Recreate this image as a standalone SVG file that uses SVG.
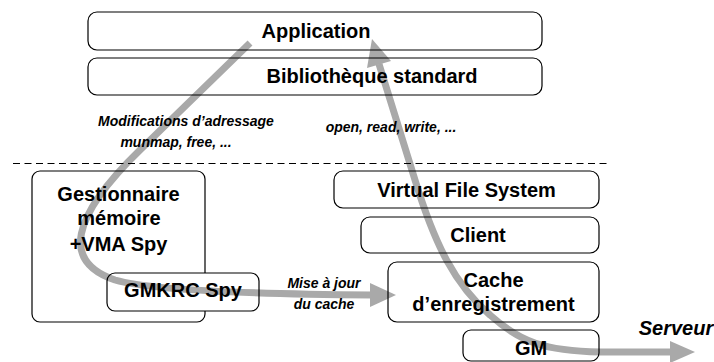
<svg xmlns="http://www.w3.org/2000/svg" width="714" height="362" viewBox="0 0 714 362">
<style>
.box{fill:none;stroke:#000;stroke-width:1.2}
.lbl{font-family:"Liberation Sans",Arial,Helvetica,sans-serif;font-weight:bold;font-size:20px;fill:#000;text-anchor:middle}
.note{font-family:"Liberation Sans",Arial,Helvetica,sans-serif;font-weight:bold;font-style:italic;font-size:14px;fill:#000;text-anchor:middle}
.flow{fill:none;stroke:#a9a9a9;stroke-width:7}
.head{fill:#a9a9a9;stroke:none}
</style>
<rect width="714" height="362" fill="#fff"/>
<g id="connectors">
<path class="flow" d="M250,43 L140,150 C70,218 62,262 115,280 C150,290 240,294 372,295"/>
<polygon class="head" points="396,295 370,283 370,307"/>
<path class="flow" d="M379,64 L415,180 C435,245 455,285 490,315 C520,342 545,351 600,352 L671,352"/>
<polygon class="head" points="372,39 391,61 367,68"/>
<polygon class="head" points="695,352 670,341 670,363"/>
</g>
<line x1="13" y1="163.5" x2="610" y2="163.5" stroke="#000" stroke-width="1" stroke-dasharray="7 4.5"/>
<g id="application">
<rect class="box" x="88" y="12" width="454" height="38" rx="9"/>
<text class="lbl" x="316" y="38">Application</text>
</g>
<g id="bibliotheque">
<rect class="box" x="88" y="58" width="454" height="37" rx="9"/>
<text class="lbl" x="372" y="83">Bibliothèque standard</text>
</g>
<g id="gestionnaire">
<path class="box" d="M40,171 H197 A8,8 0 0 1 205,179 V273 M205,311 V314 A8,8 0 0 1 197,322 H40 A8,8 0 0 1 32,314 V179 A8,8 0 0 1 40,171"/>
<text class="lbl" x="118.5" y="201">Gestionnaire</text>
<text class="lbl" x="119" y="225">mémoire</text>
<text class="lbl" x="118.5" y="251">+VMA Spy</text>
</g>
<g id="gmkrc">
<rect class="box" x="107" y="273" width="152" height="38" rx="8"/>
<text class="lbl" x="183" y="297">GMKRC Spy</text>
</g>
<g id="vfs">
<rect class="box" x="334" y="171" width="265" height="37" rx="9"/>
<text class="lbl" x="466.5" y="197">Virtual File System</text>
</g>
<g id="client">
<rect class="box" x="361" y="217" width="238" height="36" rx="9"/>
<text class="lbl" x="478" y="242">Client</text>
</g>
<g id="cache">
<rect class="box" x="388" y="262" width="211" height="60" rx="9"/>
<text class="lbl" x="493.5" y="287">Cache</text>
<text class="lbl" x="493.5" y="311">d’enregistrement</text>
</g>
<g id="gm">
<rect class="box" x="463" y="330" width="136" height="31" rx="8"/>
<text class="lbl" x="531" y="355">GM</text>
</g>
<g id="labels">
<text class="note" x="186" y="126">Modifications d’adressage</text>
<text class="note" x="176" y="147">munmap, free, ...</text>
<text class="note" x="391" y="132">open, read, write, ...</text>
<text class="note" x="324" y="288">Mise à jour</text>
<text class="note" x="324" y="309">du cache</text>
<text class="lbl" style="font-style:italic" x="676" y="335">Serveur</text>
</g>
</svg>
